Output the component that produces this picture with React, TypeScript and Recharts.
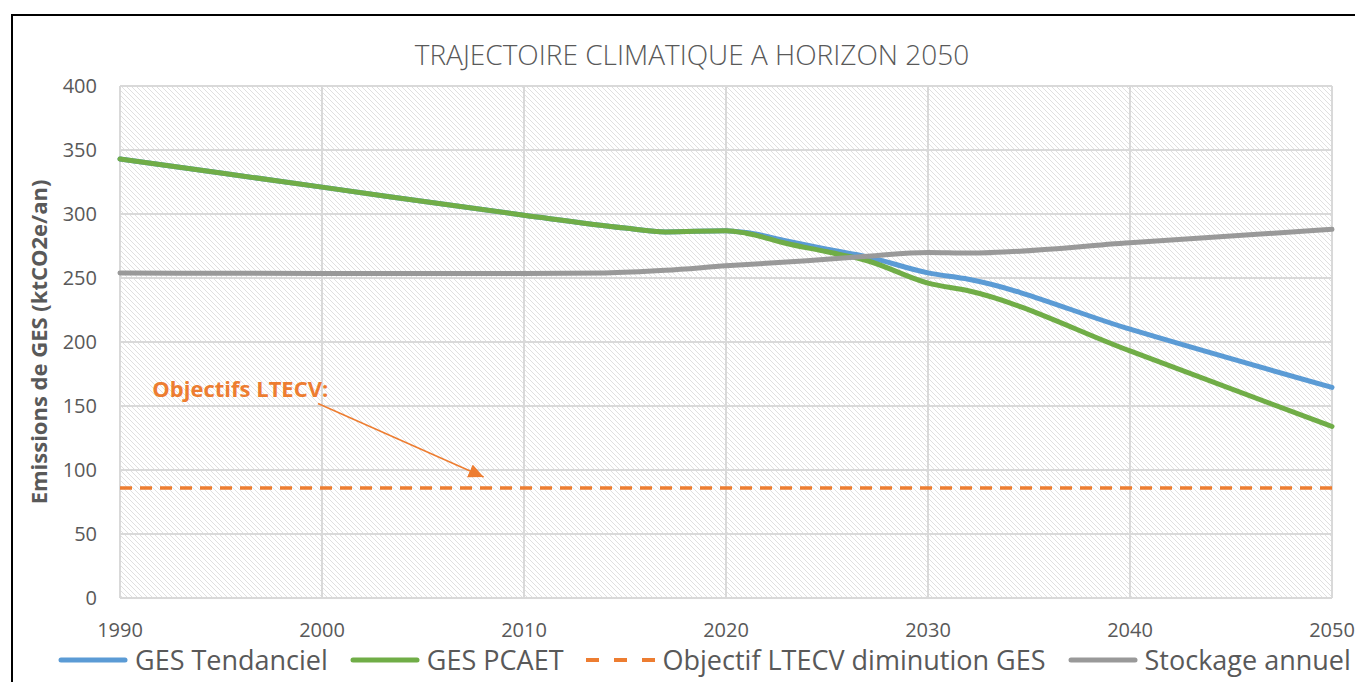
import { LineChart, Line, XAxis, YAxis, CartesianGrid, ReferenceLine, ReferenceDot } from 'recharts';

const years = [1990, 2000, 2010, 2020, 2030, 2040, 2050];
const emissionTicks = [0, 50, 100, 150, 200, 250, 300, 350, 400];

const tendanciel = [
  { year: 1990, v: 343 }, { year: 2000, v: 321 }, { year: 2010, v: 299 }, { year: 2015, v: 289 },
  { year: 2017, v: 286 }, { year: 2020, v: 287 }, { year: 2021, v: 285.5 }, { year: 2023, v: 279 },
  { year: 2025, v: 272.5 }, { year: 2027, v: 266.5 }, { year: 2030, v: 254 }, { year: 2032, v: 249 },
  { year: 2040, v: 210 }, { year: 2050, v: 164.5 },
];

const pcaet = [
  { year: 1990, v: 343 }, { year: 2000, v: 321 }, { year: 2010, v: 299 }, { year: 2015, v: 289 },
  { year: 2017, v: 286 }, { year: 2020, v: 287 }, { year: 2021, v: 285 }, { year: 2023, v: 277 },
  { year: 2025, v: 270.5 }, { year: 2027, v: 263.5 }, { year: 2030, v: 246 }, { year: 2032, v: 240 },
  { year: 2040, v: 193 }, { year: 2050, v: 134 },
];

const objectif = [
  { year: 1990, v: 86 }, { year: 2050, v: 86 },
];

const stockage = [
  { year: 1990, v: 254 }, { year: 2000, v: 253.5 }, { year: 2010, v: 253.5 }, { year: 2014, v: 254 },
  { year: 2017, v: 256 }, { year: 2020, v: 259.5 }, { year: 2024, v: 263.5 }, { year: 2027, v: 267 },
  { year: 2030, v: 270 }, { year: 2032, v: 269.5 }, { year: 2040, v: 277.5 }, { year: 2050, v: 288 },
];

// annotation arrow (data coords)
const arrowFrom = { year: 1999.8, v: 152 };
const arrowTo = { year: 2008, v: 94.5 };
const noteAt = { year: 1991.6, v: 157 };

const BLUE = '#5b9bd5';
const GREEN = '#70ad47';
const ORANGE = '#ed7d31';
const GREY = '#999999';
const TEXT = '#595959';
const FONT = '"Open Sans", sans-serif';

const legendItems = [
  { label: 'GES Tendanciel', color: BLUE, dash: undefined },
  { label: 'GES PCAET', color: GREEN, dash: undefined },
  { label: 'Objectif LTECV diminution GES', color: ORANGE, dash: '13 15' },
  { label: 'Stockage annuel', color: GREY, dash: undefined },
];

const NoteLabel = (props: any) => {
  const { viewBox } = props;
  return (
    <text x={viewBox.x} y={viewBox.y} fill={ORANGE} fontSize={22} fontWeight={700} fontFamily={FONT}>
      Objectifs LTECV:
    </text>
  );
};

const YLabel = (props: any) => {
  const { viewBox } = props;
  const cx = viewBox.x - 12;
  const cy = viewBox.y + viewBox.height / 2;
  return (
    <text
      x={cx} y={cy} transform={`rotate(-90 ${cx} ${cy})`} textAnchor="middle" dominantBaseline="central"
      fill={TEXT} fontSize={22} fontWeight={700} fontFamily={FONT}
    >
      Emissions de GES (ktCO2e/an)
    </text>
  );
};

export default function App() {
  return (
    <div style={{ position: 'relative', width: 1355, height: 674, overflow: 'hidden', fontFamily: FONT, background: '#fff' }}>
      <div style={{ position: 'absolute', left: 3, top: 6, width: 1400, height: 700, border: '2px solid #000', boxSizing: 'border-box' }} />

      <div style={{ position: 'absolute', left: 0, top: 32, width: 1368, textAlign: 'center', fontSize: 28, lineHeight: '28px', fontWeight: 300, color: TEXT }}>
        TRAJECTOIRE CLIMATIQUE A HORIZON 2050
      </div>

      <div style={{ position: 'absolute', left: 0, top: 0 }}>
        <LineChart width={1355} height={674} margin={{ top: 78, right: 31, bottom: 54, left: 42 }}>
          <defs>
            <pattern id="hatch" patternUnits="userSpaceOnUse" width={5} height={5}>
              <path d="M0,0 L5,5 M-1,4 L1,6 M4,-1 L6,1" stroke="#e0e0e0" strokeWidth={1} />
            </pattern>
            <marker id="arrowHead" markerUnits="userSpaceOnUse" markerWidth={16} markerHeight={14} refX={15} refY={7} orient="auto">
              <path d="M0,0 L15,7 L0,14 Z" fill={ORANGE} />
            </marker>
          </defs>
          <CartesianGrid fill="url(#hatch)" fillOpacity={1} stroke="#d9d9d9" strokeWidth={2} />
          <XAxis
            type="number" dataKey="year" domain={[1990, 2050]} ticks={years} allowDuplicatedCategory={false}
            axisLine={false} tickLine={false} tickMargin={19} height={30}
            tick={{ fill: TEXT, fontSize: 20, fontFamily: FONT }}
          />
          <YAxis
            type="number" domain={[0, 400]} ticks={emissionTicks} axisLine={false} tickLine={false}
            tickMargin={17} width={70} tick={{ fill: TEXT, fontSize: 20, fontFamily: FONT }}
            label={<YLabel />}
          />
          <Line data={tendanciel} dataKey="v" type="monotone" stroke={BLUE} strokeWidth={5} strokeLinecap="round" dot={false} isAnimationActive={false} />
          <Line data={pcaet} dataKey="v" type="monotone" stroke={GREEN} strokeWidth={5} strokeLinecap="round" dot={false} isAnimationActive={false} />
          <Line data={objectif} dataKey="v" type="linear" stroke={ORANGE} strokeWidth={3.5} strokeDasharray="12 8" dot={false} isAnimationActive={false} />
          <Line data={stockage} dataKey="v" type="monotone" stroke={GREY} strokeWidth={5} strokeLinecap="round" dot={false} isAnimationActive={false} />
          <ReferenceLine
            segment={[{ x: arrowFrom.year, y: arrowFrom.v }, { x: arrowTo.year, y: arrowTo.v }]}
            stroke={ORANGE} strokeWidth={1.5} markerEnd="url(#arrowHead)" ifOverflow="visible"
          />
          <ReferenceDot x={noteAt.year} y={noteAt.v} r={0} stroke="none" fill="none" label={<NoteLabel />} />
        </LineChart>
      </div>

      <div style={{ position: 'absolute', left: 50, top: 637, height: 30, display: 'flex', alignItems: 'center', whiteSpace: 'nowrap', fontSize: 27, lineHeight: '30px', color: TEXT }}>
        {legendItems.map((item, i) => (
          <div key={item.label} style={{ display: 'flex', alignItems: 'center', marginLeft: i === 0 ? 0 : 22 }}>
            <svg width={70} height={10} style={{ marginRight: 7 }}>
              <line
                x1={item.dash ? 0 : 3} y1={5} x2={item.dash ? 70 : 67} y2={5} stroke={item.color}
                strokeWidth={item.dash ? 4 : 5} strokeLinecap={item.dash ? 'butt' : 'round'} strokeDasharray={item.dash}
              />
            </svg>
            <span>{item.label}</span>
          </div>
        ))}
      </div>
    </div>
  );
}
